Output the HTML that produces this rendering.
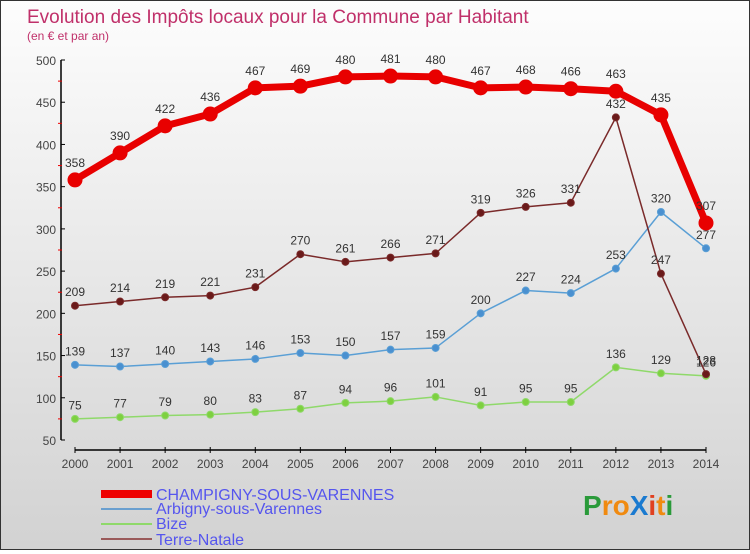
<!DOCTYPE html>
<html><head><meta charset="utf-8"><style>
body{margin:0;width:750px;height:550px;overflow:hidden;font-family:"Liberation Sans",sans-serif}
#wrap{position:relative;width:748px;height:548px;border:1px solid #333;background:linear-gradient(#fdfdfd,#d2d2d2)}
</style></head><body>
<div id="wrap">
<svg id="chart" width="748" height="548">
<text x="26" y="22" font-size="19" fill="#c0306a">Evolution des Impôts locaux pour la Commune par Habitant</text>
<text x="26" y="39" font-size="12" fill="#c0306a">(en € et par an)</text>
<g id="axes"></g><g id="series"></g>
<g font-size="16" fill="#5555ee">
<rect x="100" y="489" width="51" height="8" fill="#e00"/>
<text x="155" y="499">CHAMPIGNY-SOUS-VARENNES</text>
<rect x="100" y="507" width="51" height="2" fill="#6a9fcf"/>
<text x="155" y="513">Arbigny-sous-Varennes</text>
<rect x="100" y="522" width="51" height="2" fill="#8fd96a"/>
<text x="155" y="528">Bize</text>
<rect x="100" y="537" width="51" height="2" fill="#9a5a5a"/>
<text x="155" y="544">Terre-Natale</text>
</g>
<g font-size="28" font-weight="bold">
<text x="582" y="514"><tspan fill="#2a9a3a">P</tspan><tspan fill="#f08a10">ro</tspan><tspan fill="#1a7ad0">X</tspan><tspan fill="#e04020">i</tspan><tspan fill="#f08a10">t</tspan><tspan fill="#2a9a3a">i</tspan></text>
</g>
</svg>
</div>
<script>
const years=["2000","2001","2002","2003","2004","2005","2006","2007","2008","2009","2010","2011","2012","2013","2014"];
const yTicks=[50,100,150,200,250,300,350,400,450,500];
const champigny=[358,390,422,436,467,469,480,481,480,467,468,466,463,435,307];
const arbigny=[139,137,140,143,146,153,150,157,159,200,227,224,253,320,277];
const bize=[75,77,79,80,83,87,94,96,101,91,95,95,136,129,126];
const terre=[209,214,219,221,231,270,261,266,271,319,326,331,432,247,128];
const NS="http://www.w3.org/2000/svg";
const X=i=>74+i*(705-74)/(years.length-1);
const Y=v=>59+(500-v)*(380/450);
function mk(t,a,p){const e=document.createElementNS(NS,t);for(const k in a)e.setAttribute(k,a[k]);p.appendChild(e);return e;}
const ax=document.getElementById('axes');
let l=mk('line',{x1:60,y1:Y(500),x2:60,y2:Y(50),stroke:'#000','stroke-width':1.5},ax);


yTicks.forEach(v=>{
 mk('line',{x1:60,y1:Y(v),x2:64,y2:Y(v),stroke:'#000'},ax);
 if(v<500)mk('line',{x1:57,y1:Y(v+25),x2:61,y2:Y(v+25),stroke:'#e00'},ax);
 const t=mk('text',{x:55,y:Y(v)+5,'text-anchor':'end','font-size':12,fill:'#444'},ax);t.textContent=v;
 
 
});
l=mk('line',{x1:X(0),y1:449,x2:X(14),y2:449,stroke:'#000','stroke-width':1.5},ax);


years.forEach((y,i)=>{
 mk('line',{x1:X(i),y1:446,x2:X(i),y2:452,stroke:'#000'},ax);
 const t=mk('text',{x:X(i),y:467,'text-anchor':'middle','font-size':12,fill:'#444'},ax);t.textContent=y;
 
 
});
const sg=document.getElementById('series');
function draw(data,color,w,r,name,dotFill){
 const g=mk('g',{},sg);
 
 
 const p=mk('polyline',{points:data.map((v,i)=>X(i)+','+Y(v)).join(' '),fill:'none',stroke:color,'stroke-width':w,'stroke-linejoin':'round'},g);
 data.forEach((v,i)=>{
  const c=mk('circle',{cx:X(i),cy:Y(v),r:r,fill:dotFill,stroke:color,'stroke-width':1},g);
  
  
  const t=mk('text',{x:X(i),y:Y(v)-(r+6),'text-anchor':'middle','font-size':12,fill:'#333'},g);t.textContent=v;
  
  
 });
}
draw(bize,'#8fd96a',1.5,3.5,'bize','#7ed040');
draw(arbigny,'#5a9fd5',1.5,3.5,'arbigny','#4a90d0');
draw(terre,'#7a2a2a',1.5,3.5,'terre-natale','#6a1a1a');
draw(champigny,'#e80000',7,7,'champigny','#e80000');
</script>
</body></html>
